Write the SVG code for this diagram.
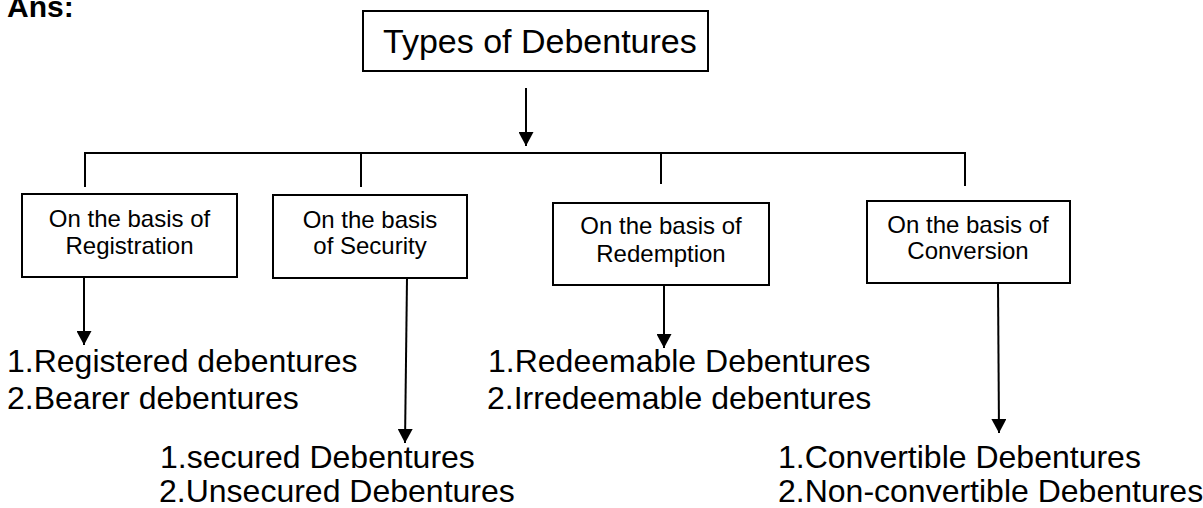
<svg xmlns="http://www.w3.org/2000/svg" width="1203" height="508" viewBox="0 0 1203 508">
<style>
text{font-family:"Liberation Sans",Arial,sans-serif;fill:#000}
.box{fill:#fff;stroke:#000;stroke-width:2}
.ln{stroke:#000;stroke-width:2;fill:none}
.bt{font-size:24px;text-anchor:middle}
.lt{font-size:32px}
</style>
<defs>
<marker id="ah" markerUnits="userSpaceOnUse" markerWidth="15" markerHeight="15" refX="14" refY="7.5" orient="auto">
<path d="M0,0 L14,7.5 L0,15 z" fill="#000"/>
</marker>
</defs>
<rect width="1203" height="508" fill="#fff"/>
<text x="7" y="17" font-size="30" font-weight="bold">Ans:</text>
<g id="connectors">
<line class="ln" x1="526" y1="88" x2="526" y2="146" marker-end="url(#ah)"/>
<line class="ln" x1="84" y1="153" x2="966" y2="153"/>
<line class="ln" x1="85" y1="153" x2="85" y2="187"/>
<line class="ln" x1="361" y1="153" x2="361" y2="187"/>
<line class="ln" x1="661" y1="153" x2="661" y2="184"/>
<line class="ln" x1="965" y1="153" x2="965" y2="186"/>
<line class="ln" x1="84" y1="278" x2="84" y2="345" marker-end="url(#ah)"/>
<line class="ln" x1="407" y1="278" x2="405" y2="443" marker-end="url(#ah)"/>
<line class="ln" x1="664" y1="285" x2="664" y2="348" marker-end="url(#ah)"/>
<line class="ln" x1="998" y1="284" x2="999" y2="433" marker-end="url(#ah)"/>
</g>
<g id="root">
<rect class="box" x="363" y="11" width="345" height="60"/>
<text x="383" y="53" font-size="34">Types of Debentures</text>
</g>
<g id="registration">
<rect class="box" x="22" y="194" width="215" height="83"/>
<text class="bt" x="129.5" y="227">On the basis of</text>
<text class="bt" x="129.5" y="254">Registration</text>
</g>
<g id="security">
<rect class="box" x="273" y="195" width="194" height="83"/>
<text class="bt" x="370" y="228">On the basis</text>
<text class="bt" x="370" y="254">of Security</text>
</g>
<g id="redemption">
<rect class="box" x="553" y="203" width="216" height="82"/>
<text class="bt" x="661" y="234">On the basis of</text>
<text class="bt" x="661" y="262">Redemption</text>
</g>
<g id="conversion">
<rect class="box" x="867" y="201" width="203" height="82"/>
<text class="bt" x="968" y="233">On the basis of</text>
<text class="bt" x="968" y="259">Conversion</text>
</g>
<g id="list-registration">
<text class="lt" x="7" y="372">1.Registered debentures</text>
<text class="lt" x="7" y="409">2.Bearer debentures</text>
</g>
<g id="list-security">
<text class="lt" x="160" y="468" font-size="31.5">1.secured Debentures</text>
<text class="lt" x="159" y="502" font-size="31.5">2.Unsecured Debentures</text>
</g>
<g id="list-redemption">
<text class="lt" x="488" y="372">1.Redeemable Debentures</text>
<text class="lt" x="487" y="409">2.Irredeemable debentures</text>
</g>
<g id="list-conversion">
<text class="lt" x="778" y="468" font-size="31.5">1.Convertible Debentures</text>
<text class="lt" x="778" y="502" font-size="31.5">2.Non-convertible Debentures</text>
</g>
</svg>
